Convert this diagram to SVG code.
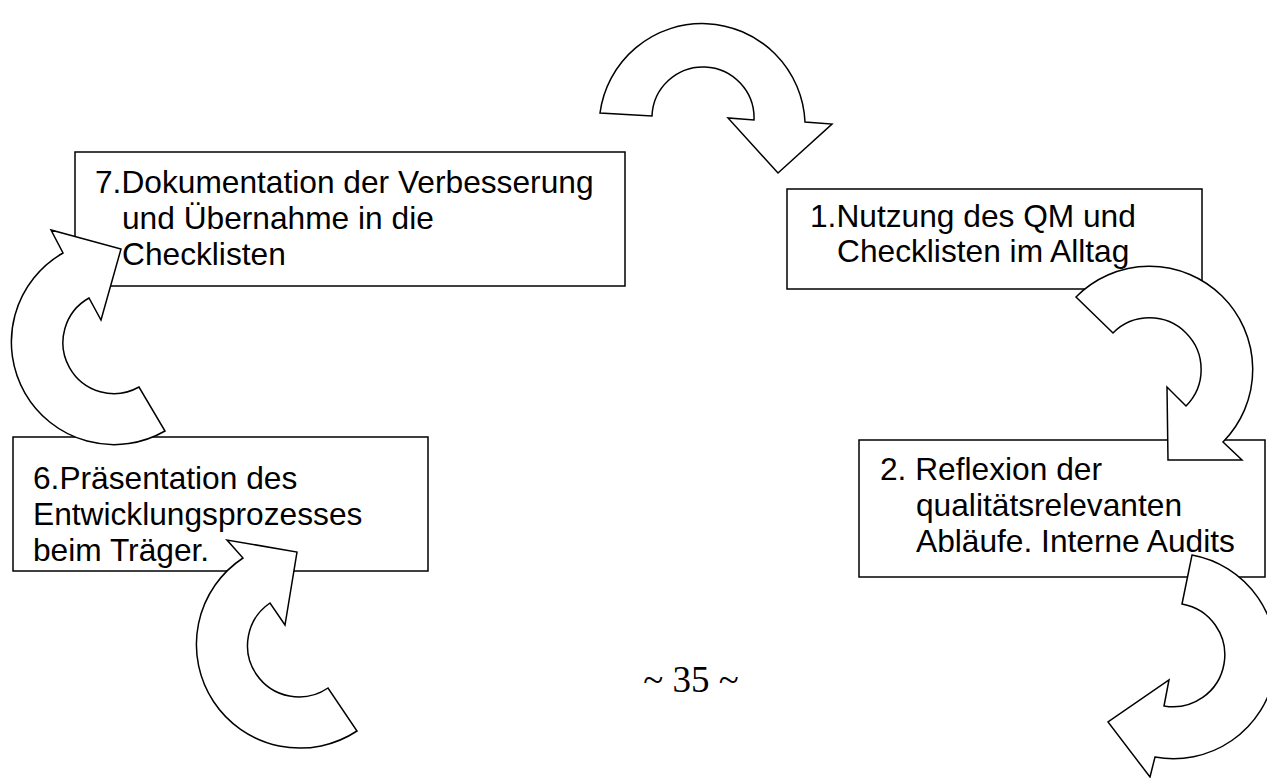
<svg xmlns="http://www.w3.org/2000/svg" width="1267" height="778" viewBox="0 0 1267 778">
<style>
.box{fill:#fff;stroke:#000;stroke-width:1.5}
.arr{fill:#fff;stroke:#000;stroke-width:1.5;stroke-linejoin:miter}
.t{font-family:"Liberation Sans",Arial,sans-serif;font-size:31.7px;fill:#000}
.pg{font-family:"Liberation Serif","Times New Roman",serif;font-size:37px;fill:#000}
</style>
<rect width="1267" height="778" fill="#fff"/>
<g id="node7">
<rect class="box" x="75" y="152" width="550" height="134"/>
<text class="t" x="95" y="193">7.Dokumentation der Verbesserung</text>
<text class="t" x="122" y="229">und Übernahme in die</text>
<text class="t" x="122" y="265">Checklisten</text>
</g>
<g id="node1">
<rect class="box" x="787" y="189" width="415" height="100"/>
<text class="t" x="810" y="227">1.Nutzung des QM und</text>
<text class="t" x="837" y="262">Checklisten im Alltag</text>
</g>
<g id="node2">
<rect class="box" x="859" y="440" width="406" height="137"/>
<text class="t" x="880" y="480">2. Reflexion der</text>
<text class="t" x="916" y="516">qualitätsrelevanten</text>
<text class="t" x="916" y="552">Abläufe. Interne Audits</text>
</g>
<g id="node6">
<rect class="box" x="13" y="437" width="415" height="134"/>
<text class="t" x="33" y="489">6.Präsentation des</text>
<text class="t" x="33" y="525">Entwicklungsprozesses</text>
<text class="t" x="33" y="561">beim Träger.</text>
</g>
<g id="connectors">
<path class="arr" d="M600,113 A103,103 0 0 1 805,122 L832,124 L778,173 L728,118 L754,120 A51,51 0 0 0 652,116 Z"/>
<path class="arr" d="M1076,297 A103,103 0 1 1 1223,442 L1242,460 L1168,460 L1167,387 L1186,406 A51,51 0 1 0 1113,333 Z"/>
<path class="arr" d="M1192,555 A102,102 0 1 1 1155,757 L1150,777 L1108,722 L1169,680 L1164,706 A51,51 0 1 0 1182,604 Z"/>
<path class="arr" d="M357,731 A103,103 0 1 1 243,558 L227,540 L297,552 L285,625 L270,603 A51,51 0 1 0 328,688 Z"/>
<path class="arr" d="M165,431 A102,102 0 1 1 63,253 L51,230 L121,249 L101,320 L89,298 A51,51 0 1 0 139,387 Z"/>
</g>
<text id="page" class="pg" x="691" y="692" text-anchor="middle">~ 35 ~</text>
</svg>
